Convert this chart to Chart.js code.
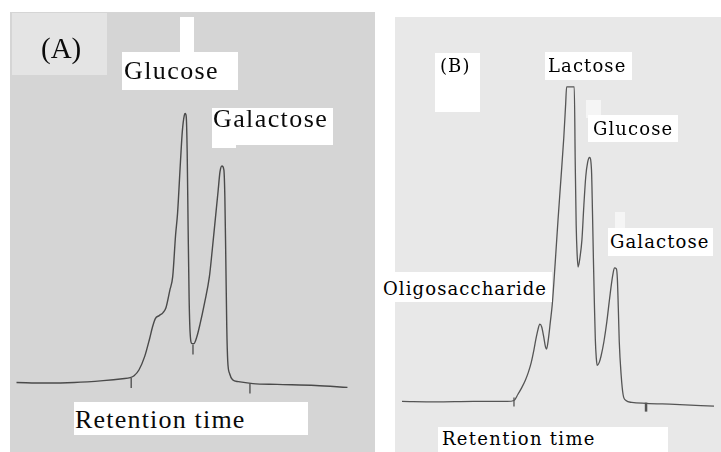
<!DOCTYPE html>
<html>
<head>
<meta charset="utf-8">
<script src="https://cdn.jsdelivr.net/npm/chart.js@4/dist/chart.umd.min.js"></script>
<style>
  html, body { margin: 0; padding: 0; background: #ffffff; }
  body { width: 721px; height: 452px; position: relative; overflow: hidden; }
  .panel { position: absolute; }
  .panel canvas { position: absolute; left: 0; top: 0; }
  .box { position: absolute; background: #ffffff; }
  .txt { position: absolute; white-space: nowrap; color: #0a0a0a; }
  .serifA { font-family: "Liberation Serif", "Times New Roman", serif; font-size: 26px; line-height: 26px; letter-spacing: 1.4px; }
  .serifB { font-family: "DejaVu Serif", serif; font-size: 18px; line-height: 18px; letter-spacing: 1.1px; color: #000; }
</style>
</head>
<body>
<div class="panel" id="pA" style="left:10px;top:12px;width:365px;height:440px;background:#d5d5d5;">
  <canvas id="cA" width="365" height="440"></canvas>
</div>
<div class="panel" id="pB" style="left:395px;top:17px;width:326px;height:435px;background:#e8e8e8;">
  <canvas id="cB" width="326" height="435"></canvas>
</div>

<!-- Panel A label patches and text -->
<div class="box" style="left:12px;top:13px;width:95px;height:62px;background:#e4e4e4;"></div>
<div class="txt" style="left:41px;top:34px;font-family:'Liberation Serif',serif;font-size:29px;line-height:28px;">(A)</div>
<div class="box" style="left:180px;top:17px;width:14px;height:36px;"></div>
<div class="box" style="left:122px;top:52px;width:116px;height:38px;"></div>
<div class="txt serifA" style="left:124px;top:58px;">Glucose</div>
<div class="box" style="left:212px;top:108px;width:121px;height:37px;"></div>
<div class="box" style="left:212px;top:140px;width:24px;height:8px;"></div>
<div class="txt serifA" style="left:213px;top:106px;">Galactose</div>
<div class="box" style="left:74px;top:402px;width:234px;height:33px;"></div>
<div class="txt serifA" style="left:75px;top:407px;letter-spacing:1.2px;">Retention time</div>

<!-- Panel B label patches and text -->
<div class="box" style="left:435px;top:53px;width:45px;height:59px;"></div>
<div class="txt serifB" style="left:440px;top:57px;">(B)</div>
<div class="box" style="left:545px;top:52px;width:87px;height:28px;"></div>
<div class="txt serifB" style="left:548px;top:57px;">Lactose</div>
<div class="box" style="left:586px;top:100px;width:15px;height:18px;background:#f5f5f5;"></div>
<div class="box" style="left:588px;top:115px;width:90px;height:27px;"></div>
<div class="txt serifB" style="left:593px;top:120px;">Glucose</div>
<div class="box" style="left:615px;top:212px;width:10px;height:16px;background:#f5f5f5;"></div>
<div class="box" style="left:608px;top:228px;width:105px;height:28px;"></div>
<div class="txt serifB" style="left:610px;top:233px;">Galactose</div>
<div class="box" style="left:380px;top:272px;width:172px;height:30px;"></div>
<div class="txt serifB" style="left:383px;top:280px;">Oligosaccharide</div>
<div class="box" style="left:438px;top:427px;width:230px;height:25px;"></div>
<div class="txt serifB" style="left:442px;top:430px;letter-spacing:1.3px;">Retention time</div>

<script>
// ---------------- Data ----------------
// Panel A: retention time (min) and detector signal (mV)
const timeA = [0, 1.2, 2.4, 3.6, 4.4, 4.72, 4.88, 5.08, 5.32, 5.52, 5.64, 5.76, 5.92, 6.08, 6.2, 6.36, 6.48, 6.6, 6.68, 6.8, 6.88, 6.96, 7.0, 7.04, 7.08, 7.12, 7.16, 7.2, 7.28, 7.36, 7.48, 7.6, 7.8, 8.0, 8.12, 8.24, 8.36, 8.44, 8.52, 8.6, 8.64, 8.68, 8.72, 8.76, 8.84, 8.96, 9.2, 9.8, 10.8, 12.4, 13.72];
const signalA = [1.1, 0.9, 1.1, 1.8, 2.5, 2.9, 3.6, 5.7, 10.7, 17.1, 21.4, 24.6, 25.7, 26.8, 28.6, 35, 40, 55.4, 63.2, 82.1, 93.6, 99.3, 100, 98.9, 85.7, 57.1, 32.1, 19.6, 15.4, 15.4, 17.9, 22.1, 30.4, 40, 50, 60.7, 71.4, 78.6, 80.7, 79.3, 69.6, 46.4, 21.4, 8.9, 4.3, 2.1, 1.4, 0.7, 0.4, 0, -0.7];
// integration marks of panel A
const markTimeA = [4.76, 7.32, 9.68];
const markSignalA = [0.9, 13.2, -1.1];

// Panel B: retention time (min) and detector signal (mV)
const timeB = [0, 1.4, 3.0, 4.4, 4.68, 4.84, 5.0, 5.16, 5.28, 5.4, 5.52, 5.6, 5.68, 5.76, 5.84, 5.92, 6.0, 6.04, 6.12, 6.2, 6.28, 6.4, 6.52, 6.64, 6.76, 6.84, 6.88, 7.2, 7.24, 7.28, 7.32, 7.36, 7.44, 7.52, 7.6, 7.68, 7.76, 7.84, 7.92, 7.96, 8.0, 8.04, 8.08, 8.12, 8.16, 8.24, 8.32, 8.44, 8.56, 8.68, 8.8, 8.88, 8.96, 9.0, 9.04, 9.08, 9.16, 9.24, 9.36, 9.6, 10.2, 11.4, 13.04];
const signalB = [0.3, 0.15, 0.3, 0.3, 0.6, 2.5, 4.6, 7.1, 9.5, 12.6, 16.9, 20.2, 23, 24.8, 23.9, 20.9, 17.5, 16.9, 20.2, 25.5, 31, 43.9, 57.7, 70.6, 83.7, 94.5, 100, 100, 76.1, 56.1, 46.9, 42.9, 46, 51.5, 62.3, 71.5, 76.1, 77.6, 73.6, 60.7, 45.4, 31.6, 19.9, 14.1, 11.7, 12.6, 14.7, 19.3, 25.5, 33.1, 39.9, 42.6, 42.3, 39.3, 30.1, 19.3, 8.6, 2.5, 0.6, 0, -0.3, -0.6, -1.2];
const markTimeB = [4.68, 10.2];
const markSignalB = [0.15, -1.5];

// peak names
const peaksA = ['Glucose', 'Galactose'];
const peaksB = ['Oligosaccharide', 'Lactose', 'Glucose', 'Galactose'];

// ---------------- Charts ----------------
function pts(xs, ys) { return xs.map((x, i) => ({ x: x, y: ys[i] })); }

function makeChart(id, xs, ys, mx, my, range, lineColor, lineWidth, markRadius, markWidths) {
  return new Chart(document.getElementById(id), {
    type: 'line',
    data: {
      datasets: [
        {
          data: pts(xs, ys),
          borderColor: lineColor,
          borderWidth: lineWidth,
          pointRadius: 0,
          fill: false,
          cubicInterpolationMode: 'monotone'
        },
        {
          type: 'scatter',
          data: pts(mx, my),
          pointStyle: 'line',
          rotation: 90,
          pointRadius: markRadius,
          borderColor: lineColor,
          pointBorderWidth: markWidths,
          borderWidth: markWidths,
          showLine: false
        }
      ]
    },
    options: {
      responsive: false,
      animation: false,
      events: [],
      layout: { padding: 0 },
      plugins: { legend: { display: false }, tooltip: { enabled: false } },
      scales: {
        x: { type: 'linear', display: false, min: range.xmin, max: range.xmax },
        y: { type: 'linear', display: false, min: range.ymin, max: range.ymax }
      }
    }
  });
}

makeChart('cA', timeA, signalA, markTimeA, markSignalA,
  { xmin: 0, xmax: 14.6, ymin: -22.14, ymax: 135 }, '#4a4a4a', 1.4, 5, [1.3, 1.3, 1.3]);
makeChart('cB', timeB, signalB, markTimeB, markSignalB,
  { xmin: 0, xmax: 13.04, ymin: -13.5, ymax: 119.9 }, '#555555', 1.3, 4.5, [1.3, 2.5]);
</script>
</body>
</html>
